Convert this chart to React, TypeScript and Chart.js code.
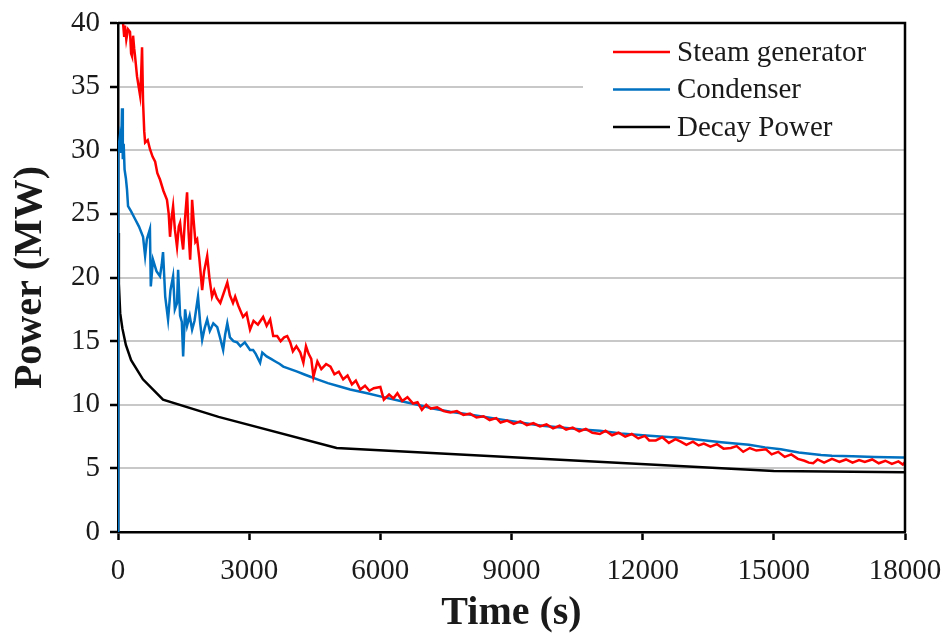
import React, { useEffect, useRef } from "react";
import { Chart, registerables } from "chart.js";

Chart.register(...registerables);

const xTicks = [0, 3000, 6000, 9000, 12000, 15000, 18000];
const yTicks = [0, 5, 10, 15, 20, 25, 30, 35, 40];
const seriesNames = ["Steam generator", "Condenser", "Decay Power"];

const decayTime = [0, 20, 50, 100, 180, 300, 570, 1030, 2300, 5000, 15000, 18000];
const decayPower = [23.5, 19.5, 17.2, 16.0, 14.7, 13.5, 12.0, 10.4, 9.05, 6.6, 4.8, 4.7];

const condTime = [
  0, 5, 40, 70, 92, 110, 130, 150, 180, 206, 230, 300, 390, 480, 573, 620, 660, 730, 750, 800,
  880, 960, 1000, 1030, 1080, 1145, 1200, 1260, 1300, 1350, 1375, 1420, 1460, 1490, 1535, 1580,
  1640, 1695, 1750, 1830, 1880, 1925, 1980, 2040, 2100, 2180, 2270, 2340, 2405, 2450, 2500, 2560,
  2640, 2725, 2800, 2900, 3020, 3090, 3150, 3250, 3300, 3400, 3500, 3600, 3700, 3780, 3860, 3940,
  4100, 4250, 4400, 4560, 4800, 5050, 5310, 5700, 6070, 6460, 6850, 7200, 7600, 8000, 8360, 8750,
  9200, 9700, 10200, 10600, 11020, 11500, 12000, 12400, 12870, 13280, 13800, 14430, 14800, 15160,
  15570, 16080, 16330, 16800, 17300, 17930, 18000,
];
const condPower = [
  0, 30, 31, 29.8, 33.3, 29.3, 30.5, 28.5, 27.8, 26.9, 25.6, 25.2, 24.6, 24.0, 23.2, 21.7, 23.0, 23.8, 19.3, 21.4,
  20.5, 20.1, 21.0, 22.0, 18.5, 16.7, 19.0, 20.1, 17.5, 18.0, 20.6, 17.0, 16.5, 13.8, 17.5, 16.2,
  17.0, 15.9, 16.6, 18.5, 16.4, 15.1, 16.0, 16.7, 15.8, 16.4, 16.1, 15.2, 14.3, 15.5, 16.4, 15.3,
  15.0, 14.9, 14.6, 14.9, 14.3, 14.3, 14.0, 13.3, 14.1, 13.8, 13.6, 13.4, 13.2, 13.0, 12.9, 12.8,
  12.6, 12.4, 12.2, 12.0, 11.7, 11.45, 11.2, 10.9, 10.6, 10.3, 10.0, 9.7, 9.45, 9.25, 9.06, 8.85,
  8.6, 8.35, 8.2, 8.05, 7.95, 7.75, 7.6, 7.5, 7.4, 7.25, 7.05, 6.85, 6.65, 6.5,
  6.25, 6.06, 6.0, 5.95, 5.9, 5.85, 5.85,
];

const sgTime = [
  60, 115, 140, 160, 190, 230, 275, 300, 320, 345, 370, 390, 435, 505, 530, 550, 573, 600, 620, 680,
  730, 790, 850, 900, 960, 1040, 1120, 1160, 1190, 1230, 1260, 1300, 1350, 1390, 1420, 1460, 1490,
  1530, 1580, 1610, 1650, 1670, 1695, 1730, 1770, 1810, 1860, 1925, 1970, 2040, 2090, 2150, 2200,
  2260, 2340, 2420, 2500, 2560, 2630, 2680, 2750, 2860, 2940, 3020, 3100, 3200, 3320, 3400, 3480,
  3550, 3640, 3720, 3800, 3870, 3940, 4000, 4080, 4170, 4240, 4300, 4360, 4420, 4470, 4560, 4650,
  4760, 4860, 4950, 5050, 5150, 5250, 5350, 5440, 5540, 5650, 5750, 5850, 6000, 6080, 6200, 6300,
  6390, 6500, 6620, 6750, 6850, 6950, 7050, 7150, 7300, 7450, 7600, 7750, 7900, 8050, 8200, 8360,
  8500, 8650, 8750, 8900, 9050, 9200, 9350, 9500, 9650, 9800, 9950, 10100, 10250, 10400, 10550,
  10700, 10850, 11020, 11150, 11300, 11450, 11600, 11750, 11900, 12050, 12150, 12300, 12450, 12600,
  12750, 12870, 13000, 13150, 13280, 13400, 13550, 13700, 13850, 14020, 14150, 14300, 14450, 14600,
  14820, 14950, 15100, 15250, 15400, 15550, 15700, 15800, 15900, 16000, 16150, 16330, 16500, 16650,
  16800, 16950, 17080, 17250, 17400, 17550, 17700, 17850, 17950, 18000,
];
const sgPower = [
  41.5, 40.0, 39.0, 39.8, 38.7, 39.5, 39.3, 37.6, 37.4, 39.0, 38.0, 37.4, 35.8, 34.3, 36.0, 38.1, 33.8, 31.5, 30.6, 30.8,
  30.1, 29.5, 29.1, 28.2, 27.7, 26.8, 26.1, 25.0, 23.2, 24.8, 25.6, 23.8, 22.4, 24.0, 24.3, 23.0, 22.2,
  24.5, 26.7, 23.8, 21.4, 23.0, 26.1, 24.5, 22.8, 23.0, 21.5, 19.0, 20.5, 21.7, 20.0, 18.5, 19.0,
  18.4, 18.0, 18.8, 19.6, 18.6, 18.0, 18.5, 17.8, 16.9, 17.2, 15.9, 16.6, 16.3, 16.9, 16.2, 16.7,
  15.4, 15.4, 15.0, 15.3, 15.4, 14.9, 14.2, 14.6, 14.1, 13.3, 14.6, 14.0, 13.6, 12.2, 13.4, 12.8,
  13.2, 13.0, 12.4, 12.6, 12.0, 12.3, 11.6, 11.9, 11.2, 11.5, 11.1, 11.3, 11.4, 10.4, 10.8, 10.5,
  10.9, 10.3, 10.6, 10.1, 10.2, 9.6, 10.0, 9.7, 9.8, 9.5, 9.4, 9.5, 9.2, 9.3, 9.0, 9.1,
  8.8, 8.95, 8.6, 8.75, 8.5, 8.7, 8.4, 8.55, 8.3, 8.45, 8.15, 8.35, 8.05, 8.2, 7.9,
  8.1, 7.8, 7.7, 7.95, 7.6, 7.8, 7.5, 7.7, 7.35, 7.55, 7.2, 7.2, 7.45, 7.0,
  7.3, 7.1, 6.85, 7.1, 6.8, 6.95, 6.7, 6.9, 6.55, 6.6, 6.75, 6.3, 6.6, 6.4,
  6.5, 6.1, 6.3, 5.9, 6.1, 5.75, 5.6, 5.45, 5.4, 5.7, 5.45, 5.75, 5.5, 5.7,
  5.45, 5.65, 5.5, 5.7, 5.4, 5.6, 5.35, 5.55, 5.3, 5.5,
];

const seriesColors = ["#ff0000", "#0070c0", "#000000"];

const toPoints = (xs: number[], ys: number[]) => xs.map((x, i) => ({ x, y: ys[i] }));

const FONT = "'Liberation Serif', 'Times New Roman', serif";

const framePlugin = {
  id: "frame",
  beforeDatasetsDraw(chart: any) {
    const { ctx, chartArea } = chart;
    const { top, right } = chartArea;
    const boxLeft = right - 322;
    ctx.save();
    ctx.fillStyle = "#ffffff";
    ctx.fillRect(boxLeft, top + 1, right - boxLeft - 1, 120);
    chart.data.datasets.forEach((ds: any, i: number) => {
      const y = top + 29 + i * 37.5;
      ctx.strokeStyle = ds.borderColor;
      ctx.lineWidth = 2.5;
      ctx.beginPath();
      ctx.moveTo(right - 292, y);
      ctx.lineTo(right - 235, y);
      ctx.stroke();
      ctx.fillStyle = "#1a1a1a";
      ctx.font = `29px ${FONT}`;
      ctx.textBaseline = "middle";
      ctx.textAlign = "left";
      ctx.fillText(ds.label, right - 228, y + 1);
    });
    ctx.restore();
  },
  afterDatasetsDraw(chart: any) {
    const { ctx, chartArea } = chart;
    ctx.save();
    ctx.strokeStyle = "#000000";
    ctx.lineWidth = 2.5;
    ctx.beginPath();
    ctx.moveTo(chartArea.left, chartArea.top);
    ctx.lineTo(chartArea.right, chartArea.top);
    ctx.lineTo(chartArea.right, chartArea.bottom);
    ctx.stroke();
    ctx.restore();
  },
};

export default function App() {
  const ref = useRef<HTMLCanvasElement>(null);
  useEffect(() => {
    if (!ref.current) return;
    const chart = new Chart(ref.current, {
      type: "line",
      data: {
        datasets: [
          { label: seriesNames[0], data: toPoints(sgTime, sgPower), borderColor: seriesColors[0], borderWidth: 2.5, pointRadius: 0, tension: 0, fill: false },
          { label: seriesNames[1], data: toPoints(condTime, condPower), borderColor: seriesColors[1], borderWidth: 2.5, pointRadius: 0, tension: 0, fill: false },
          { label: seriesNames[2], data: toPoints(decayTime, decayPower), borderColor: seriesColors[2], borderWidth: 2.5, pointRadius: 0, tension: 0, fill: false },
        ],
      },
      options: {
        animation: false,
        responsive: true,
        maintainAspectRatio: false,
        layout: { padding: { top: 23, right: 41, left: 0, bottom: 0 } },
        plugins: { legend: { display: false }, tooltip: { enabled: false } },
        scales: {
          x: {
            type: "linear",
            min: 0,
            max: 18000,
            afterBuildTicks: (s: any) => { s.ticks = xTicks.map((v) => ({ value: v })); },
            afterFit: (s: any) => { s.height = 110; s.paddingLeft = 0; s.paddingRight = 0; },
            ticks: { color: "#1a1a1a", font: { family: FONT, size: 29 }, padding: 14, maxRotation: 0, autoSkip: false, callback: (v: any) => String(v) },
            grid: { drawOnChartArea: false, drawTicks: true, tickLength: 8, tickColor: "#000", tickWidth: 2.5 },
            border: { display: true, color: "#000", width: 2.5 },
            title: { display: true, text: "Time (s)", color: "#1a1a1a", font: { family: FONT, size: 40, weight: "bold", lineHeight: 1 }, padding: { top: 0, bottom: 8 } },
          },
          y: {
            type: "linear",
            min: 0,
            max: 40,
            afterBuildTicks: (s: any) => { s.ticks = yTicks.map((v) => ({ value: v })); },
            afterFit: (s: any) => { s.width = 118; s.paddingTop = 0; s.paddingBottom = 0; },
            ticks: { color: "#1a1a1a", font: { family: FONT, size: 29 }, padding: 10, callback: (v: any) => String(v) },
            grid: {
              color: (c: any) => (c.tick && (c.tick.value === 0 || c.tick.value === 40) ? "rgba(0,0,0,0)" : "#c8c8c8"),
              lineWidth: 2,
              drawTicks: true,
              tickLength: 8,
              tickColor: "#000",
              tickWidth: 2.5,
            },
            border: { display: true, color: "#000", width: 2.5 },
            title: { display: true, text: "Power (MW)", color: "#1a1a1a", font: { family: FONT, size: 40, weight: "bold", lineHeight: 1 }, padding: { top: 11, bottom: 0 } },
          },
        },
      },
      plugins: [framePlugin],
    });
    return () => chart.destroy();
  }, []);
  return (
    <div style={{ position: "absolute", left: 0, top: 0, width: 946, height: 642, background: "#fff" }}>
      <canvas ref={ref} />
    </div>
  );
}
